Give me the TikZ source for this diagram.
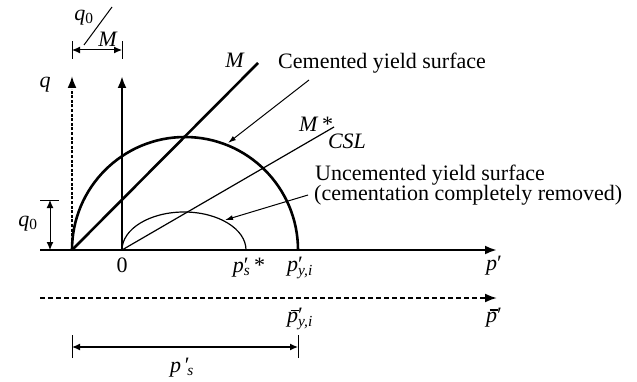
\documentclass[tikz,border=0pt]{standalone}
\usepackage{fontspec}
\setmainfont{Liberation Serif}
\usetikzlibrary{arrows.meta}
\newcommand{\pbar}{\rlap{\kern0.16em\raisebox{0.56em}{\rule{0.36em}{0.05em}}}\textit{p}}
\newcommand{\prm}{{\upshape\char"2032}}
\begin{document}
\begin{tikzpicture}[x=1pt,y=1pt,
  every node/.style={font=\fontsize{22}{26}\selectfont, inner sep=0pt},
  heavy/.style={line width=2.6pt},
  light/.style={line width=1.2pt},
  axistip/.style={-{Latex[length=12pt,width=9pt]}},
  dimtip/.style={{Latex[length=8pt,width=7pt]}-{Latex[length=8pt,width=7pt]}},
  leader/.style={line width=1pt,-{Latex[length=8pt,width=5pt]}}]
\useasboundingbox (0,0) rectangle (637,381);
% coordinates
\coordinate (A) at (72,131);
\coordinate (O) at (122,131);
\coordinate (Xs) at (40,131);
\coordinate (Xe) at (497,131);
\coordinate (Bs) at (40,83);
\coordinate (Be) at (497,83);
\coordinate (Qm) at (72,292);
\coordinate (Qn) at (72,294);
\coordinate (Qt) at (72,305);
\coordinate (Vt) at (122,305);
\coordinate (Mend) at (258,318);
\coordinate (Send) at (334,254);
% axes
\draw[heavy,axistip] (Xs) -- (Xe);
\draw[line width=2pt,axistip,dash pattern=on 5pt off 3pt] (Bs) -- (Be);
\draw[line width=2pt,dash pattern=on 3pt off 1.6pt] (A) -- (Qm);
\draw[line width=2pt,-{Latex[length=12pt,width=9pt]}] (Qn) -- (Qt);
\draw[heavy,axistip] (O) -- (Vt);
% yield surfaces
\draw[heavy] (A) arc[start angle=180,end angle=0,radius=113];
\draw[light] (O) arc[start angle=180,end angle=0,x radius=62,y radius=38];
% lines
\draw[heavy] (A) -- (Mend);
\draw[light] (O) -- (Send);
% labels
\node (lM) at (235,321) {\textit{M}};
\node[anchor=west] (lC) at (278,318) {Cemented yield surface};
\coordinate (c1s) at (309,301);
\coordinate (c1e) at (228,238);
\draw[leader] (c1s) -- (c1e);
\node (lMs) at (316,257) {\textit{M}\,*};
\node (lCSL) at (347,240) {\textit{CSL}};
\node[anchor=west] (lU1) at (315,206) {Uncemented yield surface};
\node[anchor=west] (lU2) at (314,186) {(cementation completely removed)};
\coordinate (c2s) at (308,186);
\coordinate (c2e) at (225,161);
\draw[leader] (c2s) -- (c2e);
\node (lq) at (45,296) {\textit{q}};
% q0/M dimension
\node (lq0t) at (84,363) {\textit{q}\textsubscript{0}};
\coordinate (s1) at (84,336);
\coordinate (s2) at (112,374);
\draw[line width=1pt] (s1) -- (s2);
\node (lMt) at (108,342) {\textit{M}};
\coordinate (d1) at (72,331);
\coordinate (d2) at (122,331);
\draw[line width=1pt,dimtip] (d1) -- (d2);
\draw[line width=1pt] (72,322) -- (72,340) (122,322) -- (122,340);
% q0 vertical dimension
\coordinate (v1) at (50,181);
\coordinate (v2) at (50,131);
\draw[line width=1pt,dimtip] (v1) -- (v2);
\draw[line width=1pt] (40,181) -- (59,181);
\node (lq0) at (28,157) {\textit{q}\textsubscript{0}};
% axis labels
\node (l0) at (122,116) {0};
\node (lps) at (249,113) {\textit{p}\rlap{\prm}\textsubscript{\textit{s}}\,*};
\node (lpy) at (300,113) {\textit{p}\rlap{\prm}\textsubscript{\textit{y,i}}};
\node (lp) at (494,115) {\textit{p}\prm};
\node (lpby) at (300,62) {\pbar\rlap{\prm}\textsubscript{\textit{y,i}}};
\node (lpb) at (494,63) {\pbar\prm};
% p's dimension
\coordinate (e1) at (72,34);
\coordinate (e2) at (298,34);
\draw[line width=1.2pt,dimtip] (e1) -- (e2);
\draw[line width=1pt] (72,23) -- (72,46) (298,23) -- (298,46);
\node (lpss) at (182,13) {\textit{p}\,\prm\kern-0.1em\textsubscript{\textit{s}}};
\end{tikzpicture}
\end{document}
